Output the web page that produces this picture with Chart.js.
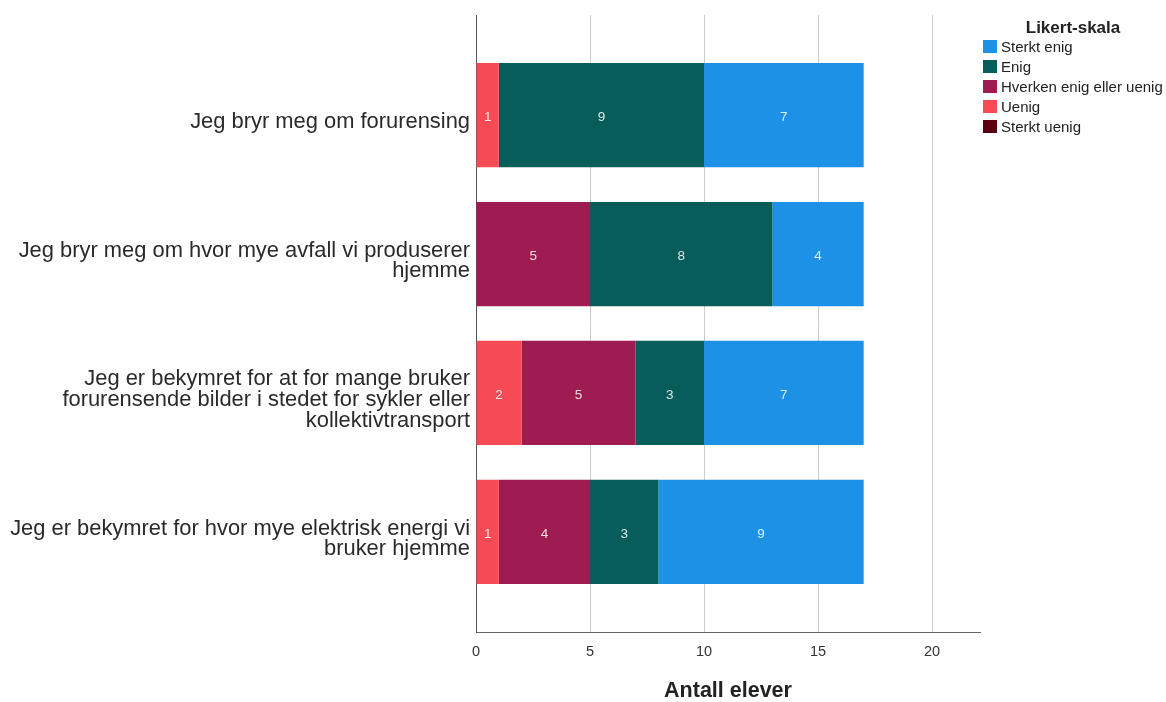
<!DOCTYPE html>
<html lang="no">
<head>
    <meta charset="UTF-8">
    <title>Likert-skala</title>
    <script src="https://cdn.jsdelivr.net/npm/chart.js"></script>
    <style>
        body {
            margin: 0;
            background: #ffffff;
            font-family: "Liberation Sans", Arial, sans-serif;
        }

        .wrap {
            position: relative;
            width: 1166px;
            height: 702px;
        }

        /* Legend (built from the series arrays below) */
        #legend {
            position: absolute;
            left: 983px;
            top: 16px;
            width: 182px;
            color: #222;
        }

        #legend .title {
            font-size: 17px;
            font-weight: bold;
            text-align: center;
            line-height: 20px;
            padding-top: 2px;
            margin-bottom: -2px;
            padding-right: 2px;
        }

        #legend .item {
            display: flex;
            align-items: center;
            height: 20px;
            font-size: 15px;
            white-space: nowrap;
        }

        #legend .box {
            width: 14px;
            height: 13px;
            margin-right: 4px;
            flex: none;
        }
    </style>
</head>
<body>

<div class="wrap">
    <canvas id="likertChart"></canvas>
    <div id="legend"></div>
</div>

<script>
    // questions (one line per array entry)
    const questions = [
        ["Jeg bryr meg om forurensing"],
        ["Jeg bryr meg om hvor mye avfall vi produserer", "hjemme"],
        ["Jeg er bekymret for at for mange bruker", "forurensende bilder i stedet for sykler eller", "kollektivtransport"],
        ["Jeg er bekymret for hvor mye elektrisk energi vi", "bruker hjemme"]
    ];
    const rowPos = [1, 2, 3, 4];

    // answers per question
    const sterktUenig = [0, 0, 0, 0];
    const uenig       = [1, 0, 2, 1];
    const hverken     = [0, 5, 5, 4];
    const enig        = [9, 8, 3, 3];
    const sterktEnig  = [7, 4, 7, 9];

    const xTicks = [0, 5, 10, 15, 20];

    // stacking order left -> right
    const series = [
        { name: "Sterkt uenig", values: sterktUenig, color: "#5A0010" },
        { name: "Uenig", values: uenig, color: "#F64B55" },
        { name: "Hverken enig eller uenig", values: hverken, color: "#9E1C50" },
        { name: "Enig", values: enig, color: "#085C5A" },
        { name: "Sterkt enig", values: sterktEnig, color: "#1C91E6" }
    ];

    // value labels inside the bars
    const valueLabels = {
        id: "valueLabels",
        afterDatasetsDraw(chart) {
            const ctx = chart.ctx;
            ctx.save();
            ctx.font = '13.5px "Liberation Sans", Arial, sans-serif';
            ctx.fillStyle = "rgba(255, 255, 255, 0.85)";
            ctx.textAlign = "center";
            ctx.textBaseline = "middle";
            chart.data.datasets.forEach((ds, i) => {
                chart.getDatasetMeta(i).data.forEach((bar, j) => {
                    const v = ds.data[j].x;
                    if (!v) return;
                    const p = bar.getCenterPoint();
                    ctx.fillText(String(v), p.x, p.y + 2);
                });
            });
            ctx.restore();
        }
    };

    const ctx = document.getElementById("likertChart").getContext("2d");
    const likertChart = new Chart(ctx, {
        type: "bar",
        data: {
            datasets: series.map(s => ({
                label: s.name,
                data: s.values.map((v, i) => ({ x: v, y: rowPos[i] })),
                backgroundColor: s.color,
                borderWidth: 0,
                barPercentage: 0.75,
                categoryPercentage: 1
            }))
        },
        options: {
            indexAxis: "y",
            responsive: true,
            maintainAspectRatio: false,
            animation: false,
            layout: { padding: { top: 15, right: 186, left: 0, bottom: 0 } },
            plugins: {
                legend: { display: false },
                tooltip: { enabled: false }
            },
            scales: {
                x: {
                    type: "linear",
                    stacked: true,
                    min: 0,
                    max: 22.1,
                    afterBuildTicks: scale => { scale.ticks = xTicks.map(v => ({ value: v })); },
                    afterFit: scale => {
                        scale.height = 70;
                        scale.paddingLeft = 0;
                        scale.paddingRight = 0;
                    },
                    grid: { color: "#cccccc", lineWidth: 1, drawTicks: false },
                    border: { display: true, color: "#666666", width: 1 },
                    ticks: {
                        padding: 11,
                        color: "#333333",
                        font: { family: '"Liberation Sans", Arial, sans-serif', size: 14.5 }
                    },
                    title: {
                        display: true,
                        text: "Antall elever",
                        color: "#222222",
                        padding: { top: 0, bottom: 0 },
                        font: { family: '"Liberation Sans", Arial, sans-serif', size: 21.5, weight: "bold", lineHeight: 1 }
                    }
                },
                y: {
                    type: "linear",
                    stacked: true,
                    reverse: true,
                    offset: false,
                    min: 0.28,
                    max: 4.72,
                    afterBuildTicks: scale => { scale.ticks = rowPos.map(v => ({ value: v })); },
                    afterFit: scale => {
                        scale.width = 476;
                        scale.paddingTop = 0;
                        scale.paddingBottom = 0;
                    },
                    grid: { display: false, drawTicks: false },
                    border: { display: true, color: "#555555", width: 1 },
                    ticks: {
                        padding: 6,
                        labelOffset: 7,
                        color: "#2a2a2a",
                        callback: v => questions[rowPos.indexOf(v)],
                        font: { family: '"Liberation Sans", Arial, sans-serif', size: 21.9, lineHeight: 0.94 }
                    }
                }
            }
        },
        plugins: [valueLabels]
    });

    // legend: reversed stacking order
    const legend = document.getElementById("legend");
    let html = '<div class="title">Likert-skala</div>';
    series.slice().reverse().forEach(s => {
        html += '<div class="item"><span class="box" style="background:' + s.color + '"></span>' + s.name + '</div>';
    });
    legend.innerHTML = html;
</script>

</body>
</html>
